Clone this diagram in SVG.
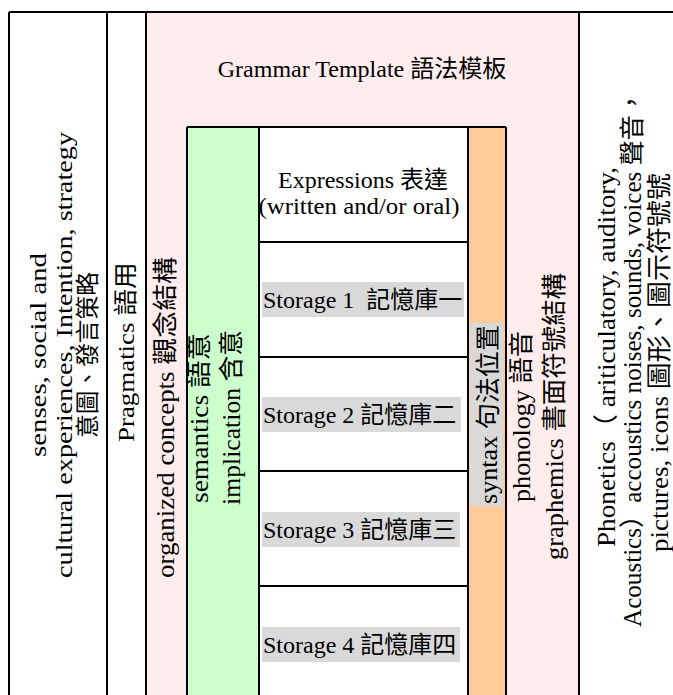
<svg xmlns="http://www.w3.org/2000/svg" width="673" height="695" viewBox="0 0 673 695">
<style>
text { font-family: 'Liberation Serif', 'Noto Sans CJK TC', serif; fill: #000; }
.f24 { font-size: 24px; }
.f25 { font-size: 25px; }
.ln { stroke: #000; stroke-width: 2; fill: none; }
.hl { fill: #D9D9D9; }
</style>
<rect x="0" y="0" width="673" height="695" fill="#FFFFFF"/>
<g id="grammar-template">
<rect x="146" y="12" width="433" height="700" fill="#FFECEC"/>
<text class="f24" x="362" y="77" text-anchor="middle">Grammar Template 語法模板</text>
</g>
<g id="senses">
<text class="f24" transform="translate(46,457) rotate(-90)" textLength="204" lengthAdjust="spacingAndGlyphs">senses, social and</text>
<text class="f24" transform="translate(72,578) rotate(-90)" textLength="446" lengthAdjust="spacingAndGlyphs">cultural experiences, Intention, strategy</text>
<text class="f24" transform="translate(96,438) rotate(-90)" textLength="166" lengthAdjust="spacingAndGlyphs">意圖、發言策略</text>
</g>
<g id="pragmatics">
<text class="f24" transform="translate(134,442) rotate(-90)" textLength="180" lengthAdjust="spacingAndGlyphs">Pragmatics 語用</text>
</g>
<g id="organized-concepts">
<text class="f25" transform="translate(174,578) rotate(-90)" textLength="321" lengthAdjust="spacingAndGlyphs">organized concepts 觀念結構</text>
</g>
<g id="semantics">
<rect x="187" y="127" width="72" height="580" fill="#CCFFCC"/>
<text class="f25" transform="translate(208,503) rotate(-90)" textLength="170" lengthAdjust="spacingAndGlyphs">semantics 語意</text>
<text class="f25" transform="translate(240,505) rotate(-90)" textLength="175" lengthAdjust="spacingAndGlyphs">implication 含意</text>
</g>
<g id="expressions">
<rect x="259" y="127" width="209" height="115" fill="#FFFFFF"/>
<text class="f24" x="363" y="188" text-anchor="middle">Expressions 表達</text>
<text class="f24" x="359" y="214" text-anchor="middle" textLength="201" lengthAdjust="spacingAndGlyphs">(written and/or oral)</text>
</g>
<g id="storage-1">
<rect x="259" y="242" width="209" height="115" fill="#FFFFFF"/>
<rect class="hl" x="262" y="282" width="202" height="35"/>
<text class="f24" x="263" y="308" xml:space="preserve">Storage 1  記憶庫一</text>
</g>
<g id="storage-2">
<rect x="259" y="357" width="209" height="114" fill="#FFFFFF"/>
<rect class="hl" x="262" y="397" width="199" height="35"/>
<text class="f24" x="263" y="423">Storage 2 記憶庫二</text>
</g>
<g id="storage-3">
<rect x="259" y="471" width="209" height="115" fill="#FFFFFF"/>
<rect class="hl" x="262" y="512" width="198" height="35"/>
<text class="f24" x="263" y="538">Storage 3 記憶庫三</text>
</g>
<g id="storage-4">
<rect x="259" y="586" width="209" height="120" fill="#FFFFFF"/>
<rect class="hl" x="262" y="627" width="198" height="35"/>
<text class="f24" x="263" y="653">Storage 4 記憶庫四</text>
</g>
<g id="syntax">
<rect x="468" y="127" width="38" height="580" fill="#FFCC99"/>
<rect class="hl" x="470" y="323" width="33" height="183"/>
<text class="f25" transform="translate(497,504) rotate(-90)" textLength="179" lengthAdjust="spacingAndGlyphs">syntax 句法位置</text>
</g>
<g id="phonology">
<text class="f25" transform="translate(530,502) rotate(-90)" textLength="171" lengthAdjust="spacingAndGlyphs">phonology 語音</text>
<text class="f25" transform="translate(563,560) rotate(-90)" textLength="287" lengthAdjust="spacingAndGlyphs">graphemics 書面符號結構</text>
</g>
<g id="phonetics">
<text class="f25" transform="translate(615,547) rotate(-90)" textLength="380" lengthAdjust="spacingAndGlyphs">Phonetics（ ariticulatory, auditory,</text>
<text class="f25" transform="translate(641,627) rotate(-90)" textLength="537" lengthAdjust="spacingAndGlyphs">Acoustics）accoustics noises, sounds, voices 聲音，</text>
<text class="f25" transform="translate(668,552) rotate(-90)" textLength="379" lengthAdjust="spacingAndGlyphs">pictures, icons 圖形、圖示符號號</text>
</g>
<g id="connectors">
<line class="ln" x1="9" y1="12" x2="673" y2="12"/>
<line class="ln" x1="9" y1="12" x2="9" y2="695"/>
<line class="ln" x1="107" y1="12" x2="107" y2="695"/>
<line class="ln" x1="146" y1="12" x2="146" y2="695"/>
<line class="ln" x1="579" y1="12" x2="579" y2="695"/>
<line class="ln" x1="187" y1="127" x2="506" y2="127"/>
<line class="ln" x1="187" y1="127" x2="187" y2="695"/>
<line class="ln" x1="259" y1="127" x2="259" y2="695"/>
<line class="ln" x1="468" y1="127" x2="468" y2="695"/>
<line class="ln" x1="506" y1="127" x2="506" y2="695"/>
<line class="ln" x1="259" y1="242" x2="468" y2="242"/>
<line class="ln" x1="259" y1="357" x2="468" y2="357"/>
<line class="ln" x1="259" y1="471" x2="468" y2="471"/>
<line class="ln" x1="259" y1="586" x2="468" y2="586"/>
</g>
</svg>
